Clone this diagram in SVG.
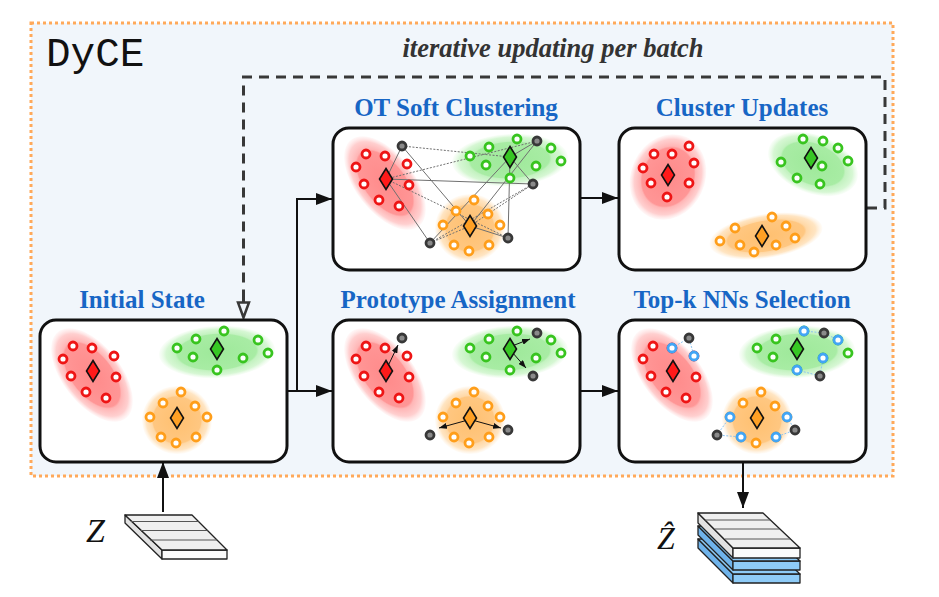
<svg xmlns="http://www.w3.org/2000/svg" width="939" height="597" viewBox="0 0 939 597">
<style>
.box{fill:#fff;stroke:#111;stroke-width:3}
.title{font-family:"Liberation Serif",serif;font-weight:bold;font-size:25px;fill:#1766c5;text-anchor:middle}
.dr{fill:#fff;stroke:#ee1515;stroke-width:2.8}
.dg{fill:#fff;stroke:#38c41f;stroke-width:2.8}
.do{fill:#fff;stroke:#ff9e1a;stroke-width:2.8}
.dk{fill:#8a8a8a;stroke:#383838;stroke-width:2.8}
.db{fill:#fff;stroke:#42a5f5;stroke-width:2.8}
.dia{stroke:#111;stroke-width:1.6}
.conn{stroke:#111;stroke-width:2;fill:none}
.ot{stroke:#707070;stroke-width:1;fill:none}
.otd{stroke:#707070;stroke-width:1;fill:none;stroke-dasharray:2 1.5}
.pa{stroke:#111;stroke-width:1;fill:none}
.nn{stroke:#8cc4f2;stroke-width:1;fill:none;stroke-dasharray:2 1.5}
.slab{stroke:#222;stroke-width:1.3;stroke-linejoin:round}
.stripe{stroke:#555;stroke-width:1}
</style>
<defs>
<radialGradient id="gr"><stop offset="0" stop-color="#ff8a8a"/><stop offset="0.68" stop-color="#ff9696"/><stop offset="0.72" stop-color="#ffb6b6"/><stop offset="0.88" stop-color="#ffcaca" stop-opacity="0.9"/><stop offset="1" stop-color="#ffe0e0" stop-opacity="0.2"/></radialGradient>
<radialGradient id="gg"><stop offset="0" stop-color="#9ee99a"/><stop offset="0.68" stop-color="#a8eca4"/><stop offset="0.72" stop-color="#c3f2c0"/><stop offset="0.88" stop-color="#d2f6cf" stop-opacity="0.9"/><stop offset="1" stop-color="#e6fae4" stop-opacity="0.2"/></radialGradient>
<radialGradient id="go"><stop offset="0" stop-color="#ffc070"/><stop offset="0.68" stop-color="#ffc781"/><stop offset="0.72" stop-color="#ffd8a6"/><stop offset="0.88" stop-color="#ffe2bc" stop-opacity="0.9"/><stop offset="1" stop-color="#fff0dc" stop-opacity="0.2"/></radialGradient>
<marker id="ah" viewBox="0 0 16 12" refX="16" refY="6" markerWidth="16" markerHeight="12" markerUnits="userSpaceOnUse" orient="auto"><path d="M0,0 L16,6 L0,12 Z" fill="#111"/></marker>
<marker id="sah" viewBox="0 0 8 6" refX="8" refY="3" markerWidth="8" markerHeight="6" markerUnits="userSpaceOnUse" orient="auto"><path d="M0,0 L8,3 L0,6 Z" fill="#111"/></marker>
<g id="ell0">
<ellipse cx="92" cy="375" rx="55" ry="29" transform="rotate(52 92 375)" fill="url(#gr)"/>
<ellipse cx="217" cy="352" rx="58" ry="26" transform="rotate(-3 217 352)" fill="url(#gg)"/>
<ellipse cx="177" cy="420" rx="35" ry="34" fill="url(#go)"/>
</g>
<g id="dots0">
<circle class="dr" cx="73" cy="346" r="4"/><circle class="dr" cx="92" cy="348" r="4"/><circle class="dr" cx="63" cy="359" r="4"/><circle class="dr" cx="114" cy="356" r="4"/><circle class="dr" cx="71" cy="376" r="4"/><circle class="dr" cx="116" cy="377" r="4"/><circle class="dr" cx="86" cy="392" r="4"/><circle class="dr" cx="106" cy="398" r="4"/>
<circle class="dg" cx="177" cy="348" r="4"/><circle class="dg" cx="196" cy="339" r="4"/><circle class="dg" cx="193" cy="357" r="4"/><circle class="dg" cx="224" cy="331" r="4"/><circle class="dg" cx="217" cy="370" r="4"/><circle class="dg" cx="243" cy="358" r="4"/><circle class="dg" cx="258" cy="340" r="4"/><circle class="dg" cx="268" cy="353" r="4"/>
<circle class="do" cx="181" cy="392" r="4"/><circle class="do" cx="163" cy="403" r="4"/><circle class="do" cx="195" cy="406" r="4"/><circle class="do" cx="150" cy="417" r="4"/><circle class="do" cx="207" cy="417" r="4"/><circle class="do" cx="161" cy="437" r="4"/><circle class="do" cx="176" cy="443" r="4"/><circle class="do" cx="196" cy="437" r="4"/>
</g>
<g id="dia0">
<polygon class="dia" fill="#ff1a1a" points="93,360.5 99.5,371 93,381.5 86.5,371"/>
<polygon class="dia" fill="#37c724" points="217,338.5 223.5,349 217,359.5 210.5,349"/>
<polygon class="dia" fill="#ffa024" points="177,407.5 183.5,418 177,428.5 170.5,418"/>
</g>
<g id="gray0">
<circle class="dk" cx="109" cy="338" r="4"/><circle class="dk" cx="244" cy="333" r="4"/><circle class="dk" cx="240" cy="376" r="4"/><circle class="dk" cx="137" cy="435" r="4"/><circle class="dk" cx="215" cy="430" r="4"/>
</g>
</defs>

<rect x="31" y="23" width="862" height="453" fill="#f1f6fb" stroke="#ffa95a" stroke-width="3" stroke-dasharray="3 3"/>
<text x="46" y="66" font-family="Liberation Mono, monospace" font-size="41" fill="#111">DyCE</text>
<text x="553" y="57" font-family="Liberation Serif, serif" font-weight="bold" font-style="italic" font-size="26.5" fill="#333" text-anchor="middle">iterative updating per batch</text>

<g id="connectors">
<path class="conn" d="M287,391 H332" marker-end="url(#ah)"/>
<path class="conn" d="M297,391 V199 H332" marker-end="url(#ah)"/>
<path class="conn" d="M580,198 H618" marker-end="url(#ah)"/>
<path class="conn" d="M580,391 H618" marker-end="url(#ah)"/>
<path class="conn" d="M163,512 V462" marker-end="url(#ah)"/>
<path class="conn" d="M743,462 V508" marker-end="url(#ah)"/>
<path d="M867,208 H885 V77 H243.5 V300" fill="none" stroke="#383838" stroke-width="3" stroke-dasharray="10 7"/>
<path d="M243.5,292 V303" fill="none" stroke="#383838" stroke-width="3"/>
<polygon points="238,302.5 249,302.5 243.5,317.5" fill="#f1f6fb" stroke="#383838" stroke-width="2.5" stroke-linejoin="miter"/>
</g>

<g id="initial-state">
<text class="title" x="142" y="308">Initial State</text>
<rect class="box" x="40" y="320" width="247" height="142" rx="16"/>
<use href="#ell0"/><use href="#dots0"/><use href="#dia0"/>
</g>

<g id="ot-soft-clustering">
<text class="title" x="456" y="116">OT Soft Clustering</text>
<rect class="box" x="333" y="128" width="247" height="142" rx="16"/>
<g transform="translate(293,-192)">
<use href="#ell0"/>
<path class="ot" d="M109,338 L93,371"/>
<path class="otd" d="M109,338 L217,349"/>
<path class="ot" d="M109,338 L177,418"/>
<path class="otd" d="M244,333 L93,371"/>
<path class="ot" d="M244,333 L217,349"/>
<path class="ot" d="M244,333 L177,418"/>
<path class="ot" d="M240,376 L93,371"/>
<path class="ot" d="M240,376 L217,349"/>
<path class="otd" d="M240,376 L177,418"/>
<path class="ot" d="M137,435 L93,371"/>
<path class="ot" d="M137,435 L217,349"/>
<path class="otd" d="M137,435 L177,418"/>
<path class="otd" d="M215,430 L93,371"/>
<path class="ot" d="M215,430 L217,349"/>
<path class="ot" d="M215,430 L177,418"/>
<path class="otd" d="M137,435 L240,376"/>
<use href="#dots0"/><use href="#dia0"/><use href="#gray0"/>
</g>
</g>

<g id="cluster-updates">
<text class="title" x="742" y="116">Cluster Updates</text>
<rect class="box" x="619" y="128" width="247" height="142" rx="16"/>
<ellipse cx="668" cy="177" rx="44" ry="37" transform="rotate(-65 668 177)" fill="url(#gr)"/>
<ellipse cx="813" cy="164" rx="47" ry="29" transform="rotate(22 813 164)" fill="url(#gg)"/>
<ellipse cx="766" cy="236" rx="57" ry="22" transform="rotate(-9 766 236)" fill="url(#go)"/>
<circle class="dr" cx="689" cy="146" r="4"/><circle class="dr" cx="654" cy="154" r="4"/><circle class="dr" cx="672" cy="154" r="4"/><circle class="dr" cx="643" cy="168" r="4"/><circle class="dr" cx="694" cy="163" r="4"/><circle class="dr" cx="651" cy="183" r="4"/><circle class="dr" cx="689" cy="183" r="4"/><circle class="dr" cx="667" cy="197" r="4"/>
<circle class="dg" cx="803" cy="139" r="4"/><circle class="dg" cx="823" cy="141" r="4"/><circle class="dg" cx="838" cy="148" r="4"/><circle class="dg" cx="781" cy="162" r="4"/><circle class="dg" cx="848" cy="161" r="4"/><circle class="dg" cx="822" cy="166" r="4"/><circle class="dg" cx="797" cy="178" r="4"/><circle class="dg" cx="820" cy="184" r="4"/>
<circle class="do" cx="772" cy="217" r="4"/><circle class="do" cx="735" cy="228" r="4"/><circle class="do" cx="786" cy="226" r="4"/><circle class="do" cx="720" cy="241" r="4"/><circle class="do" cx="740" cy="245" r="4"/><circle class="do" cx="795" cy="238" r="4"/><circle class="do" cx="754" cy="252" r="4"/><circle class="do" cx="776" cy="245" r="4"/>
<polygon class="dia" fill="#ff1a1a" points="668,164.5 674.5,175 668,185.5 661.5,175"/>
<polygon class="dia" fill="#37c724" points="811,147.5 817.5,158 811,168.5 804.5,158"/>
<polygon class="dia" fill="#ffa024" points="762,225.5 768.5,236 762,246.5 755.5,236"/>
</g>

<g id="prototype-assignment">
<text class="title" x="458" y="308">Prototype Assignment</text>
<rect class="box" x="333" y="320" width="247" height="142" rx="16"/>
<g transform="translate(293,0)">
<use href="#ell0"/><use href="#dots0"/>
<path class="pa" d="M95,366 L105,345" marker-end="url(#sah)"/>
<path class="pa" d="M219,346 L237,339" marker-end="url(#sah)"/>
<path class="pa" d="M219,352 L233,368" marker-end="url(#sah)"/>
<path class="pa" d="M175,420 L146,428" marker-end="url(#sah)"/>
<path class="pa" d="M179,420 L208,428" marker-end="url(#sah)"/>
<use href="#dia0"/><use href="#gray0"/>
</g>
</g>

<g id="top-k-nns-selection">
<text class="title" x="742" y="308">Top-k NNs Selection</text>
<rect class="box" x="619" y="320" width="247" height="142" rx="16"/>
<g transform="translate(580,0)">
<use href="#ell0"/>
<path class="nn" d="M92,348 L109,338 L114,356"/>
<path class="nn" d="M224,331 L244,333 L258,340"/>
<path class="nn" d="M217,370 L240,376 L243,358"/>
<path class="nn" d="M150,417 L137,435 L161,437"/>
<path class="nn" d="M207,417 L215,430 L196,437"/>
<use href="#dots0"/>
<circle class="db" cx="92" cy="348" r="4"/><circle class="db" cx="114" cy="356" r="4"/>
<circle class="db" cx="224" cy="331" r="4"/><circle class="db" cx="258" cy="340" r="4"/><circle class="db" cx="243" cy="358" r="4"/><circle class="db" cx="217" cy="370" r="4"/>
<circle class="db" cx="150" cy="417" r="4"/><circle class="db" cx="161" cy="437" r="4"/><circle class="db" cx="207" cy="417" r="4"/><circle class="db" cx="196" cy="437" r="4"/>
<use href="#dia0"/><use href="#gray0"/>
</g>
</g>

<g id="input-z">
<polygon class="slab" fill="#e2e2e2" points="125,515 162,550 162,559 125,523"/>
<polygon class="slab" fill="#fbfbfb" points="162,550 227,550 227,559 162,559"/>
<polygon class="slab" fill="#efefef" points="125,515 192,515 227,550 162,550"/>
<line class="stripe" x1="131" y1="521.5" x2="198.5" y2="521.5"/>
<line class="stripe" x1="140" y1="530.5" x2="207.5" y2="530.5"/>
<line class="stripe" x1="150" y1="540" x2="217" y2="540"/>
<text x="86" y="542" font-family="Liberation Serif, serif" font-style="italic" font-size="34" fill="#111">Z</text>
</g>

<g id="output-zhat">
<g transform="translate(0,26)">
<polygon class="slab" fill="#6fb3ea" points="698,513 733,548 733,557 698,522"/>
<polygon class="slab" fill="#8ecbf7" points="733,548 800,548 800,557 733,557"/>
<polygon class="slab" fill="#8ecbf7" points="698,513 763,513 800,548 733,548"/>
</g>
<g transform="translate(0,13)">
<polygon class="slab" fill="#6fb3ea" points="698,513 733,548 733,557 698,522"/>
<polygon class="slab" fill="#8ecbf7" points="733,548 800,548 800,557 733,557"/>
<polygon class="slab" fill="#8ecbf7" points="698,513 763,513 800,548 733,548"/>
</g>
<polygon class="slab" fill="#e2e2e2" points="698,513 733,548 733,558 698,523"/>
<polygon class="slab" fill="#fbfbfb" points="733,548 800,548 800,558 733,558"/>
<polygon class="slab" fill="#efefef" points="698,513 763,513 800,548 733,548"/>
<line class="stripe" x1="705" y1="520" x2="770" y2="520"/>
<line class="stripe" x1="714.5" y1="529" x2="779.5" y2="529"/>
<line class="stripe" x1="725" y1="539" x2="790" y2="539"/>
<text x="657" y="549" font-family="Liberation Serif, DejaVu Serif, serif" font-style="italic" font-size="32" fill="#111">Ẑ</text>
</g>
</svg>
